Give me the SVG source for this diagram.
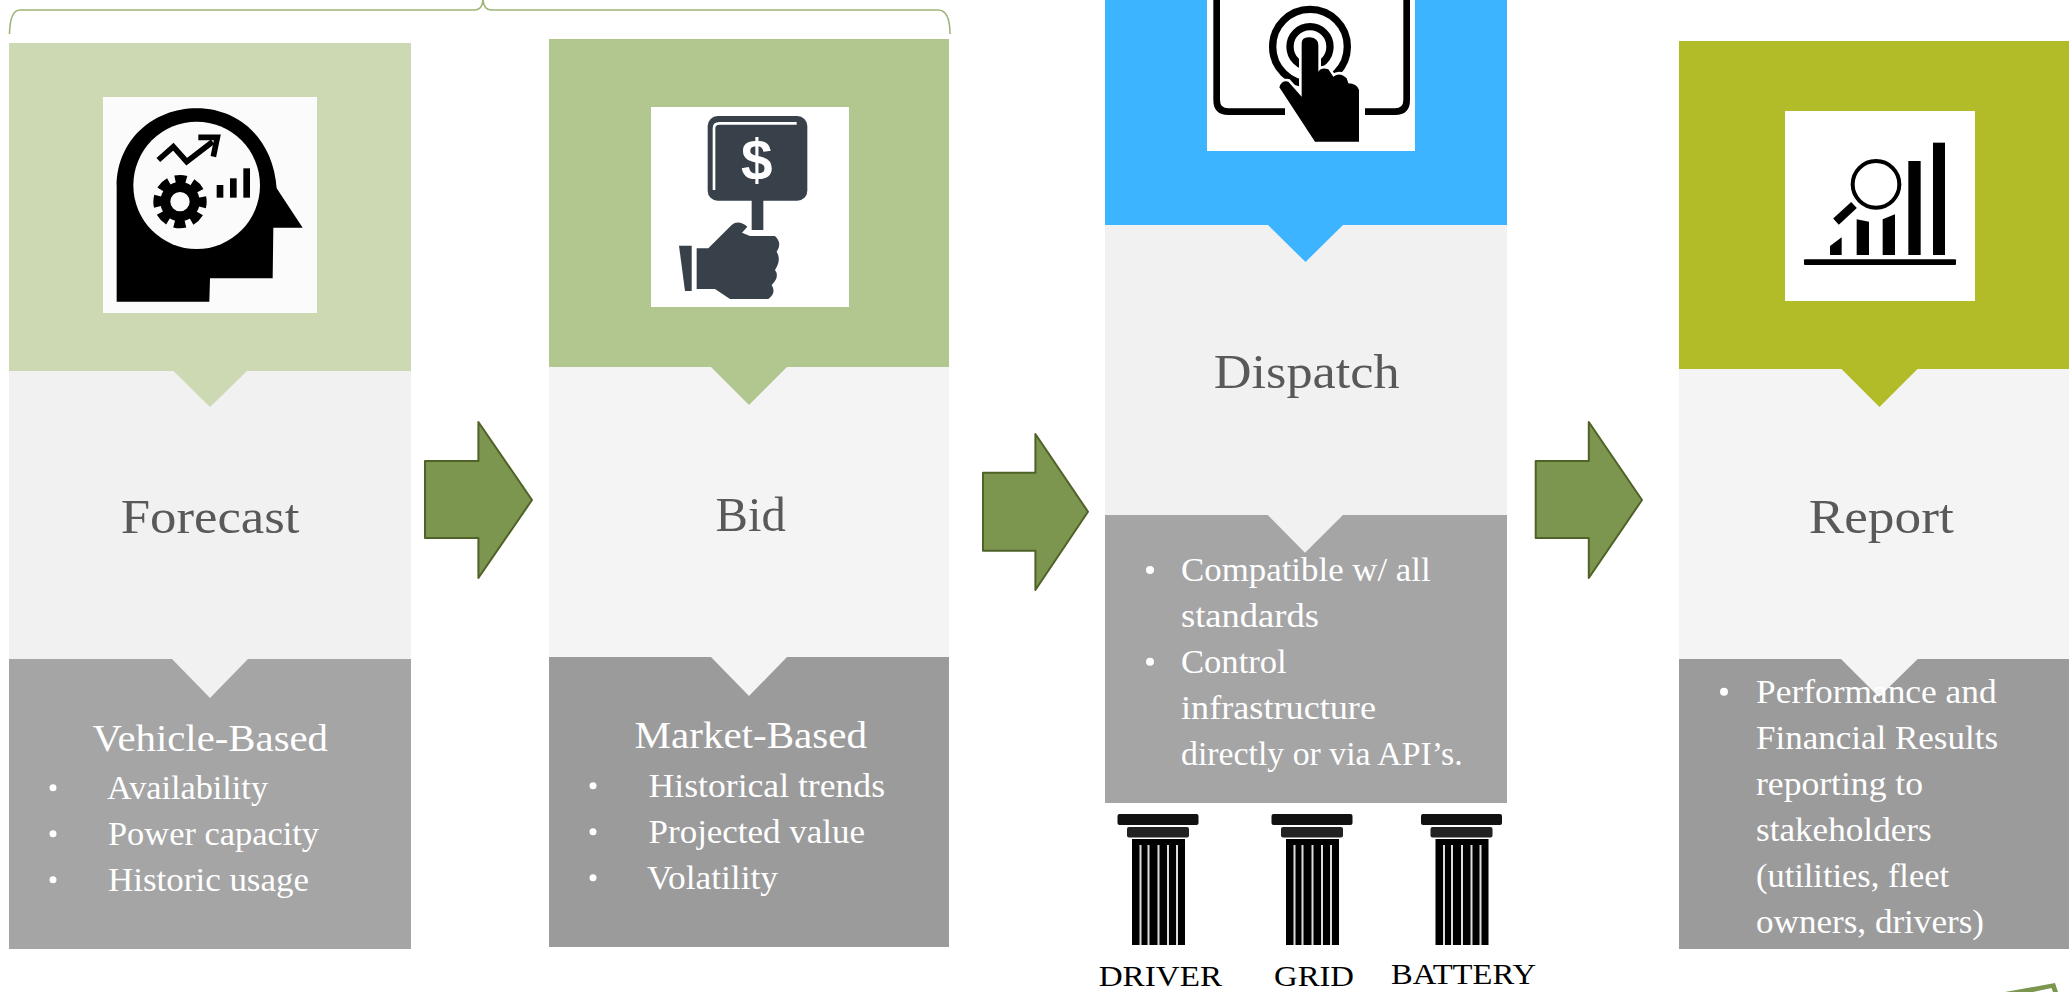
<svg xmlns="http://www.w3.org/2000/svg" width="2069" height="992" viewBox="0 0 2069 992">
<style>
text{font-family:"Liberation Serif","Times New Roman",serif}
.h{font-size:48px;fill:#595959}
.s{font-size:38px;fill:#fff}
.l{font-size:33px;fill:#fff}
.p{font-size:30px;fill:#000}
.b{fill:#fff}
.arrow{fill:#7c954f;stroke:#4f6228;stroke-width:2;stroke-linejoin:round}
</style>
<defs>
<filter id="soft" x="-5%" y="-5%" width="110%" height="110%"><feGaussianBlur stdDeviation="0.55"/></filter>
<g id="pillar">
<rect x="1117.5" y="814" width="81" height="11" rx="2" fill="#111"/>
<rect x="1127" y="827" width="62" height="10.500" rx="2" fill="#222"/>
<rect x="1132" y="839" width="53" height="106" fill="#000"/>
<path d="M1140.500 845V945M1148.500 845V945M1158.500 845V945M1168 845V945M1177 845V945" stroke="#ddd" stroke-width="2" fill="none"/>
</g>
</defs>

<rect width="2069" height="992" fill="#fff"/>

<g id="brace">
<path d="M9.500 34Q10 10 20 10H475Q482 10 483 0Q484 10 491 10H938Q950 10 950 34" fill="none" stroke="#9cb576" stroke-width="1.600"/>
</g>

<g id="forecast">
<rect x="9" y="43" width="402" height="328" fill="#ccd9b3"/>
<rect x="9" y="371" width="402" height="288" fill="#f1f1f1"/>
<rect x="9" y="659" width="402" height="290" fill="#a5a5a5"/>
<polygon points="173.500,371 247,371 210,407" fill="#ccd9b3"/>
<polygon points="172,659 248,659 210,698" fill="#f1f1f1"/>
<rect x="103" y="97" width="214" height="216" fill="#fbfbfb"/>
<g transform="translate(90 90) scale(.33333)" filter="url(#soft)">
<path d="M80 635V290C80 150 190 55 320 55C450 55 550 150 560 295L638 413H550L548 565H360L358 635Z" fill="#000"/>
<ellipse cx="320" cy="286" rx="190" ry="191" fill="#fbfbfb"/>
<path d="M205 210L250 170L290 215L368 155" fill="none" stroke="#000" stroke-width="17"/>
<path d="M325 142H382L370 200" fill="none" stroke="#000" stroke-width="17"/>
<circle cx="270" cy="335" r="44" fill="none" stroke="#000" stroke-width="30"/>
<circle cx="270" cy="335" r="68" fill="none" stroke="#000" stroke-width="24" stroke-dasharray="34 19.400" stroke-dashoffset="17"/>
<rect x="380" y="285" width="20" height="38"/><rect x="420" y="265" width="20" height="58"/><rect x="460" y="235" width="20" height="88"/>
</g>
<text class="h" x="120.700" y="533.300" textLength="178.800" lengthAdjust="spacingAndGlyphs">Forecast</text>
<text class="s" x="92.500" y="750.700" textLength="235.500" lengthAdjust="spacingAndGlyphs">Vehicle-Based</text>
<circle class="b" cx="53" cy="787.700" r="3.500"/><circle class="b" cx="53" cy="833.700" r="3.500"/><circle class="b" cx="53" cy="879.700" r="3.500"/>
<text class="l" x="107" y="798.700" textLength="161" lengthAdjust="spacingAndGlyphs">Availability</text>
<text class="l" x="108" y="844.700" textLength="211" lengthAdjust="spacingAndGlyphs">Power capacity</text>
<text class="l" x="108" y="890.700" textLength="201" lengthAdjust="spacingAndGlyphs">Historic usage</text>
</g>

<g id="bid">
<rect x="549" y="39" width="400" height="328" fill="#b2c78f"/>
<rect x="549" y="367" width="400" height="290" fill="#f4f4f4"/>
<rect x="549" y="657" width="400" height="290" fill="#9b9b9b"/>
<polygon points="711,367 787,367 749,405" fill="#b2c78f"/>
<polygon points="711,657 787,657 749,696" fill="#f4f4f4"/>
<rect x="651" y="107" width="198" height="200" fill="#fff"/>
<g transform="translate(640 100) scale(.33333)" filter="url(#soft)" fill="#37404a">
<rect x="203" y="48" width="299" height="254" rx="30"/>
<path d="M222 270V85Q222 70 238 70H470" fill="none" stroke="#fff" stroke-width="8"/>
<text x="350" y="241" text-anchor="middle" font-size="170" font-weight="bold" fill="#fff" style="font-family:'Liberation Sans',Arial,sans-serif">$</text>
<rect x="335" y="300" width="35" height="90"/>
<path d="M205 445L275 375Q295 358 322 380L306 398L330 408H405Q428 430 410 455Q425 480 405 510Q420 530 395 555Q410 580 385 597H270L225 567H170V445Z"/>
<polygon points="117,437 155,437 155,573 135,573"/>
</g>
<text class="h" x="715.500" y="530.700" textLength="70.200" lengthAdjust="spacingAndGlyphs">Bid</text>
<text class="s" x="634.500" y="748" textLength="232.500" lengthAdjust="spacingAndGlyphs">Market-Based</text>
<circle class="b" cx="593" cy="785.700" r="3.500"/><circle class="b" cx="593" cy="831.700" r="3.500"/><circle class="b" cx="593" cy="877.700" r="3.500"/>
<text class="l" x="648.600" y="796.700" textLength="236.400" lengthAdjust="spacingAndGlyphs">Historical trends</text>
<text class="l" x="648.600" y="842.700" textLength="216.400" lengthAdjust="spacingAndGlyphs">Projected value</text>
<text class="l" x="647" y="888.700" textLength="131" lengthAdjust="spacingAndGlyphs">Volatility</text>
</g>

<g id="dispatch">
<rect x="1105" y="0" width="402" height="225" fill="#3cb4ff"/>
<rect x="1105" y="225" width="402" height="290" fill="#f1f1f1"/>
<rect x="1105" y="515" width="402" height="288" fill="#a5a5a5"/>
<polygon points="1268,225 1343,225 1305.500,262" fill="#3cb4ff"/>
<polygon points="1267.700,515 1343,515 1305,552.700" fill="#f1f1f1"/>
<rect x="1207" y="0" width="208" height="151" fill="#fff"/>
<g transform="translate(1200 0) scale(.33333)" filter="url(#soft)">
<path d="M50 -5V300Q50 335 85 335H255M495 335H585Q620 335 620 300V-5" fill="none" stroke="#000" stroke-width="20"/>
<circle cx="330" cy="140" r="112" fill="none" stroke="#000" stroke-width="22"/>
<circle cx="330" cy="140" r="60" fill="none" stroke="#000" stroke-width="22"/>
<path d="M238 262Q245 240 265 245L305 290V130Q305 110 330 112Q355 115 355 135V215Q365 200 385 208L400 230Q420 215 440 235L445 250Q470 250 477 270V425H345Z" fill="#000" stroke="#fff" stroke-width="16" paint-order="stroke"/>
</g>
<text class="h" x="1213.800" y="387.700" textLength="185.800" lengthAdjust="spacingAndGlyphs">Dispatch</text>
<circle class="b" cx="1150" cy="570" r="4"/><circle class="b" cx="1150" cy="661.700" r="4"/>
<text class="l" x="1181" y="580.700" textLength="249.700" lengthAdjust="spacingAndGlyphs">Compatible w/ all</text>
<text class="l" x="1181" y="626.700" textLength="138" lengthAdjust="spacingAndGlyphs">standards</text>
<text class="l" x="1181" y="672.700" textLength="105.700" lengthAdjust="spacingAndGlyphs">Control</text>
<text class="l" x="1181" y="719" textLength="195" lengthAdjust="spacingAndGlyphs">infrastructure</text>
<text class="l" x="1181" y="765" textLength="281.700" lengthAdjust="spacingAndGlyphs">directly or via API’s.</text>
</g>

<g id="report">
<rect x="1679" y="41" width="390" height="328" fill="#b1bc28"/>
<rect x="1679" y="369" width="390" height="290" fill="#f4f4f4"/>
<rect x="1679" y="659" width="390" height="290" fill="#9b9b9b"/>
<polygon points="1841.500,369 1917.500,369 1879.500,407" fill="#b1bc28"/>
<polygon points="1841,659 1917.700,659 1879,697" fill="#f4f4f4"/>
<rect x="1785" y="111" width="190" height="190" fill="#fff"/>
<g transform="translate(1780 100) scale(.33333)" filter="url(#soft)">
<rect x="72" y="478" width="456" height="17" rx="3"/>
<polygon points="150,465 150,438 185,412 185,465"/>
<polygon points="230,465 230,358 267,365 267,465"/>
<polygon points="308,465 308,358 345,343 345,465"/>
<rect x="385" y="183" width="37" height="282"/>
<rect x="459" y="128" width="36" height="337"/>
<circle cx="288" cy="253" r="70" fill="none" stroke="#000" stroke-width="12"/>
<path d="M168 365L222 315" stroke="#000" stroke-width="25" fill="none"/>
</g>
<text class="h" x="1808.700" y="533.300" textLength="145" lengthAdjust="spacingAndGlyphs">Report</text>
<circle class="b" cx="1724" cy="691.700" r="4"/>
<text class="l" x="1756" y="702.700" textLength="240.700" lengthAdjust="spacingAndGlyphs">Performance and</text>
<text class="l" x="1756" y="748.700" textLength="242" lengthAdjust="spacingAndGlyphs">Financial Results</text>
<text class="l" x="1756" y="794.700" textLength="167" lengthAdjust="spacingAndGlyphs">reporting to</text>
<text class="l" x="1756" y="840.700" textLength="175.700" lengthAdjust="spacingAndGlyphs">stakeholders</text>
<text class="l" x="1756" y="886.700" textLength="193" lengthAdjust="spacingAndGlyphs">(utilities, fleet</text>
<text class="l" x="1756" y="932.700" textLength="228" lengthAdjust="spacingAndGlyphs">owners, drivers)</text>
</g>

<g id="pillar-driver">
<use href="#pillar"/>
<text class="p" x="1098.700" y="986" textLength="123.300" lengthAdjust="spacingAndGlyphs">DRIVER</text>
</g>
<g id="pillar-grid">
<use href="#pillar" x="154"/>
<text class="p" x="1274" y="986" textLength="80" lengthAdjust="spacingAndGlyphs">GRID</text>
</g>
<g id="pillar-battery">
<use href="#pillar" x="303.500"/>
<text class="p" x="1391" y="984" textLength="145" lengthAdjust="spacingAndGlyphs">BATTERY</text>
</g>

<g id="connectors">
<polygon class="arrow" points="425,461 478.400,461 478.400,422 532,500 478.400,578 478.400,538 425,538"/>
<polygon class="arrow" points="983,472.700 1035.400,472.700 1035.400,434 1088,511.700 1035.400,590 1035.400,550.700 983,550.700"/>
<polygon class="arrow" points="1535.700,461 1588.800,461 1588.800,422 1642,500 1588.800,578 1588.800,538 1535.700,538"/>
<polygon points="2005,992 2055,983 2058,992 2053,992 2051.500,988 2033,992" fill="#7c954f"/>
</g>
</svg>
